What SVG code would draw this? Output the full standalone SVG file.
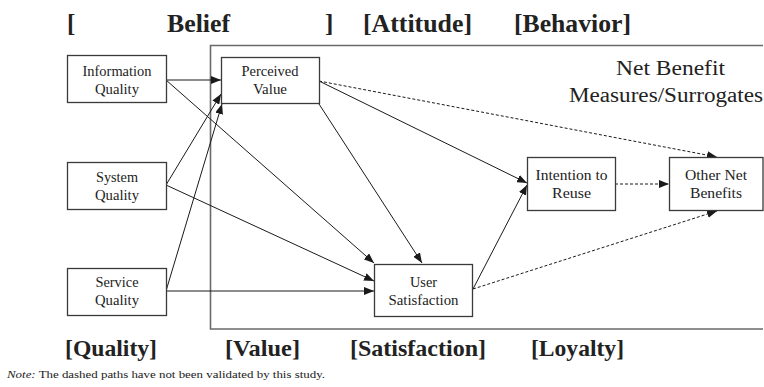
<svg xmlns="http://www.w3.org/2000/svg" width="764" height="387" viewBox="0 0 764 387">
<defs>
<marker id="ah" viewBox="0 0 10 8" refX="10" refY="4" markerWidth="10" markerHeight="8" markerUnits="userSpaceOnUse" orient="auto">
<path d="M0,0 L10,4 L0,8 z" fill="#1a1a1a"/>
</marker>
<style>
text{font-family:"Liberation Serif","Times New Roman","Nimbus Roman","DejaVu Serif",serif;fill:#222}
.box{fill:#fff;stroke:#3a3a3a;stroke-width:1.3}
.lbl{font-size:14px;text-anchor:middle}
.hd{font-weight:bold}
.c{fill:none;stroke:#1a1a1a;stroke-width:1;marker-end:url(#ah)}
.d{stroke-dasharray:3,2}
</style>
</defs>
<rect width="764" height="387" fill="#fff"/>
<path d="M763,45.5 H210.5 V329 H763" fill="none" stroke="#6a6a6a" stroke-width="1.6"/>

<g id="titles">
<text class="hd" x="67" y="31.5" font-size="25">[</text>
<text class="hd" x="167" y="31.5" font-size="25" textLength="63" lengthAdjust="spacingAndGlyphs">Belief</text>
<text class="hd" x="325" y="31.5" font-size="25">]</text>
<text class="hd" x="363" y="31.5" font-size="25" textLength="109" lengthAdjust="spacingAndGlyphs">[Attitude]</text>
<text class="hd" x="514" y="31.5" font-size="25" textLength="117" lengthAdjust="spacingAndGlyphs">[Behavior]</text>
<text class="hd" x="65" y="356" font-size="24" textLength="92" lengthAdjust="spacingAndGlyphs">[Quality]</text>
<text class="hd" x="225" y="356" font-size="24" textLength="75" lengthAdjust="spacingAndGlyphs">[Value]</text>
<text class="hd" x="350" y="356" font-size="24" textLength="136" lengthAdjust="spacingAndGlyphs">[Satisfaction]</text>
<text class="hd" x="531" y="356" font-size="24" textLength="93" lengthAdjust="spacingAndGlyphs">[Loyalty]</text>
</g>

<g id="netbenefit">
<text x="670.5" y="75" font-size="20" text-anchor="middle" textLength="109" lengthAdjust="spacingAndGlyphs">Net Benefit</text>
<text x="666" y="102" font-size="20" text-anchor="middle" textLength="194" lengthAdjust="spacingAndGlyphs">Measures/Surrogates</text>
</g>

<g id="connectors">
<line class="c" x1="166" y1="80" x2="221" y2="80"/>
<line class="c" x1="166" y1="80" x2="374" y2="263"/>
<line class="c" x1="166" y1="185" x2="221" y2="94"/>
<line class="c" x1="166" y1="185" x2="374" y2="281"/>
<line class="c" x1="166" y1="291" x2="222" y2="104"/>
<line class="c" x1="166" y1="291" x2="374" y2="291"/>
<line class="c" x1="319" y1="104" x2="422" y2="263"/>
<line class="c" x1="319" y1="81" x2="527" y2="183"/>
<line class="c d" x1="319" y1="81" x2="717" y2="157"/>
<line class="c" x1="473" y1="289" x2="527" y2="185"/>
<line class="c d" x1="473" y1="289" x2="717" y2="211"/>
<line class="c d" x1="615" y1="184" x2="669" y2="184"/>
</g>

<g id="information-quality">
<rect class="box" x="67.5" y="55.5" width="99" height="47"/>
<text class="lbl" x="117" y="76" textLength="69" lengthAdjust="spacingAndGlyphs">Information</text>
<text class="lbl" x="117" y="93.5" textLength="44" lengthAdjust="spacingAndGlyphs">Quality</text>
</g>
<g id="system-quality">
<rect class="box" x="67.5" y="162.5" width="99" height="47"/>
<text class="lbl" x="117" y="182" textLength="42" lengthAdjust="spacingAndGlyphs">System</text>
<text class="lbl" x="117" y="200" textLength="44" lengthAdjust="spacingAndGlyphs">Quality</text>
</g>
<g id="service-quality">
<rect class="box" x="67.5" y="268.5" width="99" height="47"/>
<text class="lbl" x="117" y="287" textLength="43" lengthAdjust="spacingAndGlyphs">Service</text>
<text class="lbl" x="117" y="305" textLength="44" lengthAdjust="spacingAndGlyphs">Quality</text>
</g>
<g id="perceived-value">
<rect class="box" x="221.5" y="57.5" width="98" height="46"/>
<text class="lbl" x="270" y="76" textLength="57" lengthAdjust="spacingAndGlyphs">Perceived</text>
<text class="lbl" x="270" y="94" textLength="34" lengthAdjust="spacingAndGlyphs">Value</text>
</g>
<g id="user-satisfaction">
<rect class="box" x="374.5" y="264.5" width="98" height="52"/>
<text class="lbl" x="423.5" y="287" textLength="27" lengthAdjust="spacingAndGlyphs">User</text>
<text class="lbl" x="423.5" y="305" textLength="70" lengthAdjust="spacingAndGlyphs">Satisfaction</text>
</g>
<g id="intention-to-reuse">
<rect class="box" x="527.5" y="157.5" width="88" height="53"/>
<text class="lbl" x="571.5" y="180" textLength="72" lengthAdjust="spacingAndGlyphs">Intention to</text>
<text class="lbl" x="571.5" y="198" textLength="39" lengthAdjust="spacingAndGlyphs">Reuse</text>
</g>
<g id="other-net-benefits">
<rect class="box" x="669.5" y="157.5" width="93.5" height="53"/>
<text class="lbl" x="716" y="180" textLength="62" lengthAdjust="spacingAndGlyphs">Other Net</text>
<text class="lbl" x="716" y="198" textLength="52" lengthAdjust="spacingAndGlyphs">Benefits</text>
</g>

<g id="note">
<text x="7" y="378" font-size="11" textLength="318" lengthAdjust="spacingAndGlyphs"><tspan font-style="italic">Note:</tspan> The dashed paths have not been validated by this study.</text>
</g>
</svg>
